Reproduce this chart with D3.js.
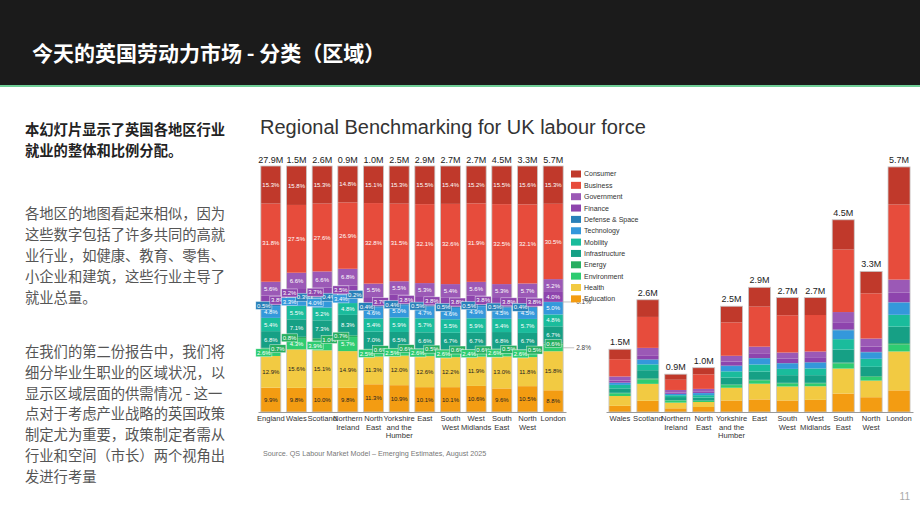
<!DOCTYPE html>
<html>
<head>
<meta charset="utf-8">
<script src="https://cdn.jsdelivr.net/npm/d3@7"></script>
<style>
    body { margin: 0; background: #fff; }
    svg { display: block; }
</style>
</head>
<body>
<div id="canvas"></div>
<script>
"use strict";

/**** CONFIGURATION VARIABLES ****/
let svgWidth = 920;
let svgHeight = 518;
let chartFont = "'Liberation Sans', Arial, sans-serif";
let cjkFont = "'Noto Sans CJK SC', sans-serif";

/**** DATA ****/
let regions = ["England", "Wales", "Scotland", "Northern Ireland", "North East", "Yorkshire and the Humber",
    "East", "South West", "West Midlands", "South East", "North West", "London"];
let regionLabels = [["England"], ["Wales"], ["Scotland"], ["Northern", "Ireland"], ["North", "East"],
    ["Yorkshire", "and the", "Humber"], ["East"], ["South", "West"], ["West", "Midlands"],
    ["South", "East"], ["North", "West"], ["London"]];

let totals = [27.9, 1.46, 2.61, 0.88, 1.03, 2.46, 2.90, 2.66, 2.66, 4.47, 3.27, 5.70];
let totalLabels = ["27.9M", "1.5M", "2.6M", "0.9M", "1.0M", "2.5M", "2.9M", "2.7M", "2.7M", "4.5M", "3.3M", "5.7M"];

let categories = ["Consumer", "Business", "Government", "Finance", "Defense & Space", "Technology",
    "Mobility", "Infrastructure", "Energy", "Environment", "Health", "Education"];
let colors = ["#c0392b", "#e74c3c", "#9b59b6", "#8e44ad", "#2980b9", "#3498db",
    "#1abc9c", "#16a085", "#27ae60", "#2ecc71", "#f2ca42", "#f39c12"];

// share of employment (%) per region, same order as regions
let consumer       = [15.3, 15.8, 15.3, 14.8, 15.1, 15.3, 15.5, 15.4, 15.2, 15.5, 15.6, 15.3];
let business       = [31.8, 27.5, 27.6, 26.9, 32.8, 31.5, 32.1, 32.6, 31.9, 32.5, 32.1, 30.5];
let government     = [5.6, 6.6, 6.6, 6.8, 5.5, 5.5, 5.3, 5.4, 5.6, 5.3, 5.7, 5.2];
let finance        = [3.8, 3.2, 3.7, 3.5, 3.7, 3.8, 3.8, 3.8, 3.8, 3.8, 3.8, 4.0];
let defense        = [0.5, 0.3, 0.4, 0.2, 0.4, 0.4, 0.5, 0.5, 0.5, 0.5, 0.4, 0.1];
let technology     = [4.8, 3.3, 4.0, 3.4, 4.6, 5.0, 4.7, 4.6, 4.9, 4.5, 4.5, 5.0];
let mobility       = [5.4, 5.5, 5.2, 4.8, 5.4, 5.9, 5.7, 5.5, 5.9, 5.4, 5.7, 4.8];
let infrastructure = [6.8, 7.1, 7.3, 8.3, 7.0, 6.5, 6.6, 6.7, 6.7, 6.8, 6.7, 6.7];
let energy         = [0.7, 0.8, 1.0, 0.7, 0.6, 0.6, 0.5, 0.6, 0.6, 0.5, 0.5, 0.6];
let environment    = [2.6, 4.3, 3.9, 5.7, 2.5, 2.5, 2.6, 2.6, 2.4, 2.6, 2.6, 2.8];
let health         = [12.9, 15.6, 15.1, 14.9, 11.3, 12.0, 12.6, 12.2, 11.9, 13.0, 11.8, 15.8];
let education      = [9.9, 9.8, 10.0, 9.8, 11.3, 10.9, 10.1, 10.1, 10.6, 9.6, 10.5, 8.8];
let shares = [consumer, business, government, finance, defense, technology,
    mobility, infrastructure, energy, environment, health, education];

/**** SLIDE TEXT ****/
let slideTitle = "今天的英国劳动力市场 - 分类（区域）";
let introLines = ["本幻灯片显示了英国各地区行业", "就业的整体和比例分配。"];
let para1Lines = ["各地区的地图看起来相似，因为", "这些数字包括了许多共同的高就", "业行业，如健康、教育、零售、",
    "小企业和建筑，这些行业主导了", "就业总量。"];
let para2Lines = ["在我们的第二份报告中，我们将", "细分毕业生职业的区域状况，以", "显示区域层面的供需情况 - 这一",
    "点对于考虑产业战略的英国政策", "制定尤为重要，政策制定者需从", "行业和空间（市长）两个视角出", "发进行考量"];
let chartTitle = "Regional Benchmarking for UK labour force";
let sourceText = "Source. QS Labour Market Model  \u2013  Emerging Estimates, August 2025";

/**** BUILD TABLES ****/
let rows = regions.map(function(r, i) {
    let row = { region: r, total: totals[i], label: totalLabels[i], lines: regionLabels[i] };
    categories.forEach(function(c, k) {
        row[c] = shares[k][i];
    });
    return row;
});

// Education sits at the bottom of every stack
let stackKeys = categories.slice().reverse();
let color = d3.scaleOrdinal().domain(categories).range(colors);

let pctSeries = d3.stack().keys(stackKeys).offset(d3.stackOffsetExpand)(rows);

let absRows = rows.slice(1).map(function(row) {
    let sum = d3.sum(categories, function(c) { return row[c]; });
    let out = { region: row.region, total: row.total, label: row.label, lines: row.lines };
    categories.forEach(function(c) {
        out[c] = row[c] / sum * row.total;
    });
    return out;
});
let absSeries = d3.stack().keys(stackKeys)(absRows);

/**** CREATE SVG CANVAS ****/
let svg = d3.select("#canvas")
    .append("svg")
    .attr("width", svgWidth)
    .attr("height", svgHeight);

/**** HEADER BAR ****/
svg.append("rect")
    .attr("x", 0).attr("y", 0)
    .attr("width", svgWidth).attr("height", 85)
    .attr("fill", "#1b1b1b");

svg.append("rect")
    .attr("x", 0).attr("y", 85)
    .attr("width", svgWidth).attr("height", 2)
    .attr("fill", "#6fcf97");

svg.append("text")
    .attr("x", 32)
    .attr("y", 61)
    .style("font-family", cjkFont)
    .style("font-size", "21px")
    .style("font-weight", "bold")
    .attr("fill", "#ffffff")
    .text(slideTitle);

/**** LEFT TEXT COLUMN ****/
function writeLines(lines, startY, lineHeight, weight, fill) {
    for (let i = 0; i < lines.length; i++) {
        svg.append("text")
            .attr("x", 25)
            .attr("y", startY + i * lineHeight)
            .style("font-family", cjkFont)
            .style("font-size", "14.3px")
            .style("font-weight", weight)
            .attr("fill", fill)
            .text(lines[i]);
    }
}
writeLines(introLines, 135, 20.5, "bold", "#222");
writeLines(para1Lines, 219, 21, "normal", "#555");
writeLines(para2Lines, 357, 20.8, "normal", "#555");

/**** CHART TITLE ****/
svg.append("text")
    .attr("x", 260)
    .attr("y", 134)
    .style("font-family", chartFont)
    .style("font-size", "20px")
    .attr("fill", "#333")
    .text(chartTitle);

/**** SCALES ****/
let xLeft = d3.scaleBand()
    .domain(regions)
    .range([258, 566])
    .paddingInner(0.22)
    .paddingOuter(0.11);

let yPct = d3.scaleLinear()
    .domain([0, 1])
    .range([412, 166]);

let xRight = d3.scaleBand()
    .domain(absRows.map(function(d) { return d.region; }))
    .range([606, 913])
    .paddingInner(0.21)
    .paddingOuter(0.105);

let yAbs = d3.scaleLinear()
    .domain([0, 6])
    .range([412, 154]);

/**** LEFT CHART: 100% STACKED BARS ****/
svg.append("g")
    .selectAll("g")
    .data(pctSeries)
    .join("g")
    .attr("fill", function(d) { return color(d.key); })
    .selectAll("rect")
    .data(function(d) { return d; })
    .join("rect")
    .attr("x", function(d) { return xLeft(d.data.region); })
    .attr("y", function(d) { return yPct(d[1]); })
    .attr("width", xLeft.bandwidth())
    .attr("height", function(d) { return yPct(d[0]) - yPct(d[1]); });

svg.append("g")
    .selectAll("rect")
    .data(rows)
    .join("rect")
    .attr("x", function(d) { return xLeft(d.region); })
    .attr("y", yPct(1))
    .attr("width", xLeft.bandwidth())
    .attr("height", yPct(0) - yPct(1))
    .attr("fill", "none")
    .attr("stroke", "#c8c8c8")
    .attr("stroke-width", 0.8);

/**** LEFT CHART: SEGMENT LABELS ****/
// small segments get a coloured box, pushed left / right alternately (bottom up)
let labelItems = [];
rows.forEach(function(row, i) {
    let isLast = i === rows.length - 1;
    let side = -1;
    stackKeys.forEach(function(key, k) {
        let seg = pctSeries[k][i];
        let v = row[key];
        let boxed = isLast ? v < 3 : v < 4.05;
        let item = {
            key: key, v: v, region: row.region,
            y: (yPct(seg[0]) + yPct(seg[1])) / 2,
            boxed: boxed, side: 0, outside: false
        };
        if (boxed) {
            item.side = side;
            side = -side;
            if (isLast) {
                item.outside = item.side < 0;
                item.side = 0;
            }
        } else {
            side = -1;
        }
        labelItems.push(item);
    });
});

let labelLayer = svg.append("g");
labelItems.forEach(function(d) {
    let cx = xLeft(d.region) + xLeft.bandwidth() / 2;
    let txt = d.v.toFixed(1) + "%";
    let dark = d.key === "Health" || d.key === "Education";

    if (d.outside) {
        let x0 = xLeft(d.region) + xLeft.bandwidth();
        labelLayer.append("line")
            .attr("x1", x0).attr("y1", d.y)
            .attr("x2", x0 + 11).attr("y2", d.y)
            .attr("stroke", "#999")
            .attr("stroke-width", 0.6);
        labelLayer.append("text")
            .attr("x", x0 + 13)
            .attr("y", d.y)
            .attr("dy", "0.35em")
            .style("font-family", chartFont)
            .style("font-size", "6.5px")
            .attr("fill", "#444")
            .text(txt);
        return;
    }

    let tx = cx + d.side * 7;
    if (d.boxed) {
        let box = labelLayer.append("rect")
            .attr("fill", color(d.key))
            .attr("stroke", "rgba(255,255,255,0.7)")
            .attr("stroke-width", 0.6);
        let t = labelLayer.append("text")
            .attr("x", tx)
            .attr("y", d.y)
            .attr("dy", "0.35em")
            .attr("text-anchor", "middle")
            .style("font-family", chartFont)
            .style("font-size", "6px")
            .attr("fill", "#ffffff")
            .text(txt);
        let w = t.node().getComputedTextLength();
        box.attr("x", tx - w / 2 - 1.2)
            .attr("y", d.y - 4)
            .attr("width", w + 2.4)
            .attr("height", 8);
    } else {
        labelLayer.append("text")
            .attr("x", tx)
            .attr("y", d.y)
            .attr("dy", "0.35em")
            .attr("text-anchor", "middle")
            .style("font-family", chartFont)
            .style("font-size", "6px")
            .attr("fill", dark ? "#222" : "#ffffff")
            .text(txt);
    }
});

/**** LEFT CHART: TOTALS AND AXIS ****/
svg.append("g")
    .selectAll("text")
    .data(rows)
    .join("text")
    .attr("x", function(d) { return xLeft(d.region) + xLeft.bandwidth() / 2; })
    .attr("y", yPct(1) - 3)
    .attr("text-anchor", "middle")
    .style("font-family", chartFont)
    .style("font-size", "9px")
    .attr("fill", "#222")
    .text(function(d) { return d.label; });

function drawAxis(scale, data) {
    let axis = svg.append("g")
        .attr("transform", "translate(0,412)")
        .call(d3.axisBottom(scale).tickSize(0).tickFormat(""));
    axis.select(".domain").attr("stroke", "#9a9a9a");

    svg.append("g")
        .selectAll("text")
        .data(data)
        .join("text")
        .attr("x", function(d) { return scale(d.region) + scale.bandwidth() / 2; })
        .attr("y", 421)
        .attr("text-anchor", "middle")
        .style("font-family", chartFont)
        .style("font-size", "7.6px")
        .attr("fill", "#333")
        .each(function(d) {
            let el = d3.select(this);
            let x = scale(d.region) + scale.bandwidth() / 2;
            d.lines.forEach(function(line, j) {
                el.append("tspan")
                    .attr("x", x)
                    .attr("dy", j === 0 ? 0 : 8.7)
                    .text(line);
            });
        });
}
drawAxis(xLeft, rows);

/**** RIGHT CHART: ABSOLUTE STACKED BARS ****/
svg.append("g")
    .selectAll("g")
    .data(absSeries)
    .join("g")
    .attr("fill", function(d) { return color(d.key); })
    .selectAll("rect")
    .data(function(d) { return d; })
    .join("rect")
    .attr("x", function(d) { return xRight(d.data.region); })
    .attr("y", function(d) { return yAbs(d[1]); })
    .attr("width", xRight.bandwidth())
    .attr("height", function(d) { return yAbs(d[0]) - yAbs(d[1]); });

svg.append("g")
    .selectAll("rect")
    .data(absRows)
    .join("rect")
    .attr("x", function(d) { return xRight(d.region); })
    .attr("y", function(d) { return yAbs(d.total); })
    .attr("width", xRight.bandwidth())
    .attr("height", function(d) { return yAbs(0) - yAbs(d.total); })
    .attr("fill", "none")
    .attr("stroke", "#c8c8c8")
    .attr("stroke-width", 0.8);

svg.append("g")
    .selectAll("text")
    .data(absRows)
    .join("text")
    .attr("x", function(d) { return xRight(d.region) + xRight.bandwidth() / 2; })
    .attr("y", function(d) { return yAbs(d.total) - 4; })
    .attr("text-anchor", "middle")
    .style("font-family", chartFont)
    .style("font-size", "9px")
    .attr("fill", "#222")
    .text(function(d) { return d.label; });

drawAxis(xRight, absRows);

/**** LEGEND ****/
for (let i = 0; i < categories.length; i++) {
    let ly = 174 + i * 11.35;
    svg.append("rect")
        .attr("x", 571)
        .attr("y", ly - 3.5)
        .attr("width", 10)
        .attr("height", 7)
        .attr("fill", colors[i]);

    svg.append("text")
        .attr("x", 584)
        .attr("y", ly)
        .attr("dy", "0.35em")
        .style("font-family", chartFont)
        .style("font-size", "7px")
        .attr("fill", "#333")
        .text(categories[i]);
}

/**** SOURCE + PAGE NUMBER ****/
svg.append("text")
    .attr("x", 263)
    .attr("y", 456)
    .style("font-family", chartFont)
    .style("font-size", "7.2px")
    .attr("fill", "#777")
    .text(sourceText);

svg.append("text")
    .attr("x", 910)
    .attr("y", 500)
    .attr("text-anchor", "end")
    .style("font-family", chartFont)
    .style("font-size", "10px")
    .attr("fill", "#aaa")
    .text("11");
</script>
</body>
</html>
